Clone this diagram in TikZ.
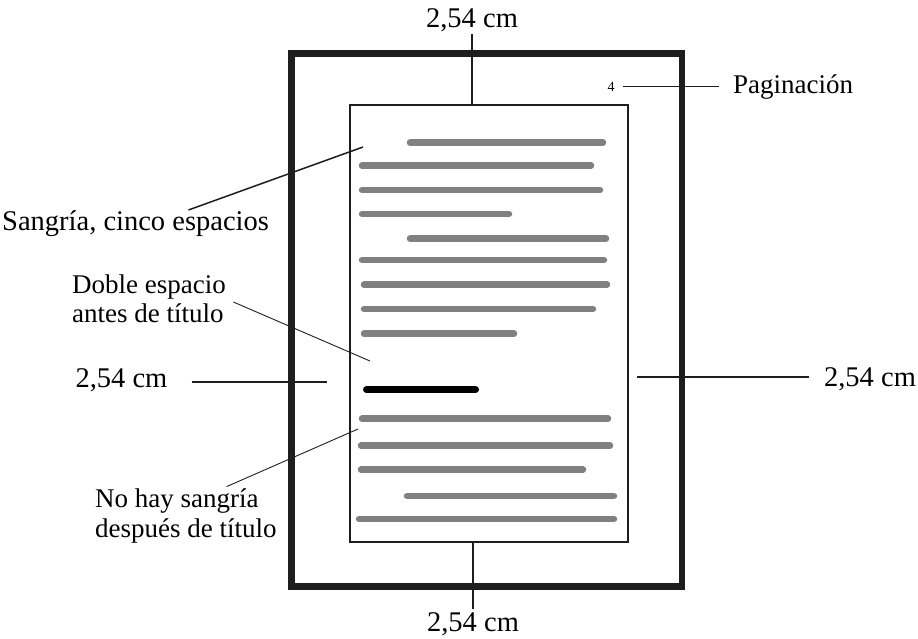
\documentclass[tikz,border=0pt]{standalone}
\usepackage{fontspec}
\setmainfont{Liberation Serif}
\usetikzlibrary{positioning}
\definecolor{bodygray}{RGB}{128,128,128}
\definecolor{inkblack}{RGB}{30,30,30}
\tikzset{
  sheetbox/.style={rectangle, draw=inkblack, line width=6.5pt, inner sep=0pt},
  pagebox/.style ={rectangle, draw=inkblack, line width=2pt, fill=white, inner sep=0pt},
  bodyline/.style={line width=6.5pt, bodygray, line cap=round},
  headline/.style={line width=7pt, black, line cap=round},
  dimline/.style ={line width=2pt, inkblack},
  pagline/.style ={line width=1pt, inkblack},
  leader/.style  ={line width=1.5pt, inkblack},
  thinleader/.style={line width=0.9pt, inkblack},
  lbl/.style     ={font=\fontsize{27}{29.5}\selectfont, inner sep=0pt},
  biglbl/.style  ={lbl, font=\fontsize{28.5}{30}\selectfont},
  numlbl/.style  ={font=\fontsize{14}{16}\selectfont, inner sep=0pt},
}

\begin{document}
\begin{tikzpicture}[x=1pt, y=-1pt]
  \useasboundingbox (0,0) rectangle (918,638);
  % sheet and text block
  \node[sheetbox, minimum width=390.5pt, minimum height=533pt] (sheet) at (486.75,320) {};
  \node[pagebox, minimum width=278.5pt, minimum height=437pt] (page) at (488.75,323) {};
  % body text
  \foreach \xa/\xb/\y in {410/603/142.7, 362/591/165.7, 362/600/190, 362/509/214,
                          410/606/238.7, 362/604/260, 364/607/284.7, 364/593/309,
                          364/514/333.7, 362/608/418.7, 361/610/445.7, 361/583/469.7,
                          407/614/496, 359/614/519} {
    \draw[bodyline] (\xa,\y) -- (\xb,\y);
  }
  \draw[headline] (366.5,389.7) -- (475.5,389.7);
  % margins
  \node[biglbl, anchor=base] (topDim) at (472,27.3) {2,54 cm};
  \node[biglbl, anchor=base] (botDim) at (473,631) {2,54 cm};
  \node[biglbl, anchor=base] (leftDim) at (121.5,387.3) {2,54 cm};
  \node[biglbl, anchor=base] (rightDim) at (870,386.7) {2,54 cm};
  \coordinate (leftEnd) at (327,381.7);
  \coordinate (rightEnd) at (637,377);
  \draw[dimline, shorten <=7pt] (topDim.base) -- (topDim.base |- page.north);
  \draw[dimline, shorten >=3pt] (botDim.north |- page.south) -- (botDim.north);
  \draw[dimline, shorten <=24pt] (leftEnd -| leftDim.east) -- (leftEnd);
  \draw[dimline, shorten >=15pt] (rightEnd) -- (rightEnd -| rightDim.west);
  % page number
  \node[numlbl, anchor=base] (pagnum) at (611,91) {4};
  \node[lbl, anchor=base west] (paglabel) at (733,93.3) {Paginación};
  \draw[pagline, shorten <=8pt, shorten >=14pt] (pagnum.east) -- (pagnum.east -| paglabel.west);
  % notes
  \node[biglbl, anchor=base west] (sangria) at (2,230) {Sangría, cinco espacios};
  \coordinate (indentTip) at (363,147);
  \draw[leader] (sangria.14) -- (indentTip);
  \node[lbl, anchor=north west, align=left] (doble) at (72,274.4) {Doble espacio\\antes de título};
  \coordinate (titleTip) at (370,361);
  \draw[thinleader, shorten <=8pt] (doble.east) -- (titleTip);
  \node[lbl, anchor=north west, align=left] (nohay) at (95,488.6) {No hay sangría\\después de título};
  \coordinate (afterTip) at (358,429);
  \draw[thinleader, shorten <=5pt] (nohay.37) -- (afterTip);
\end{tikzpicture}
\end{document}
